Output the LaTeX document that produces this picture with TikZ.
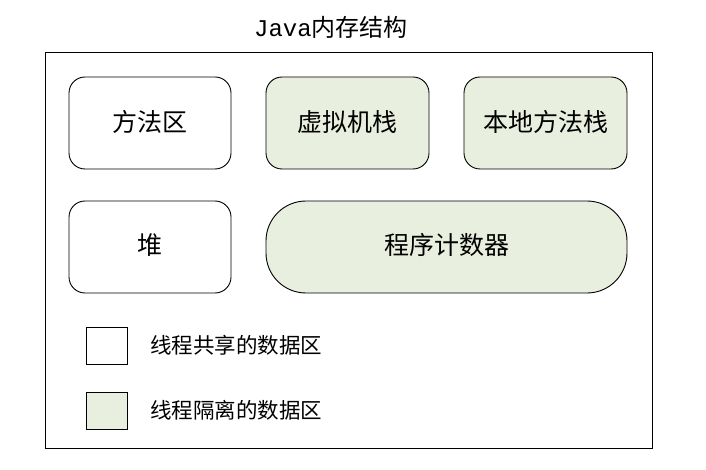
\documentclass[tikz,border=0pt]{standalone}
\usepackage{fontspec}
\newfontfamily\cjk{Noto Sans CJK SC}
\newfontfamily\monof{Liberation Mono}
\definecolor{isoGreen}{RGB}{233,239,222}
\begin{document}
\begin{tikzpicture}[x=1pt,y=-1pt,
  area/.style={draw=black,line width=0.9pt,rounded corners=16pt},
  shared/.style={area,fill=white},
  isolated/.style={area,fill=isoGreen},
  lbl/.style={font=\cjk\fontsize{25}{29}\selectfont},
  legtext/.style={font=\cjk\fontsize{21.5}{25}\selectfont,anchor=west,inner sep=0pt},
  legbox/.style={draw=black,line width=0.9pt}]
\useasboundingbox (0,0) rectangle (706,470);
\draw[line width=0.9pt] (45,52) rectangle (652,448);
\node (title) at (331,27) {\fontsize{24}{28}\selectfont\monof Java\cjk 内存结构};
% row 1
\draw[shared] (69,77) rectangle (231,169);
\node[lbl] (ma) at (150,122) {方法区};
\draw[isolated] (266,77) rectangle (429,169);
\node[lbl] (vms) at (347.5,122) {虚拟机栈};
\draw[isolated] (464,77) rectangle (627,169);
\node[lbl] (nms) at (545.5,122) {本地方法栈};
% row 2
\draw[shared] (69,201) rectangle (231,293);
\node[lbl] (heap) at (150,245) {堆};
\draw[isolated,rounded corners=40pt] (266,201) rectangle (627,293);
\node[lbl] (pc) at (446.5,245) {程序计数器};
% legend
\draw[legbox,fill=white] (86,327) rectangle (127,364);
\node[legtext] (l1) at (150,345) {线程共享的数据区};
\draw[legbox,fill=isoGreen] (86,392) rectangle (127,429);
\node[legtext] (l2) at (150,410) {线程隔离的数据区};
\end{tikzpicture}
\end{document}
